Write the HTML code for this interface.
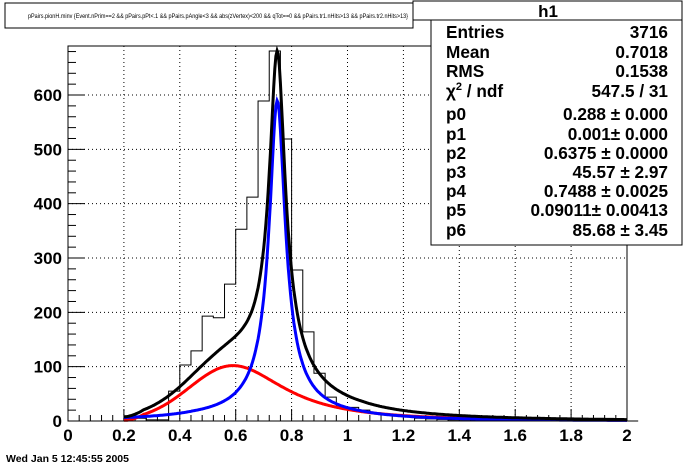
<!DOCTYPE html>
<html><head><meta charset="utf-8"><style>
body{margin:0;background:#fff}
svg{display:block;font-family:"Liberation Sans",Arial,sans-serif}
</style></head><body>
<svg id="s" width="696" height="468" viewBox="0 0 696 468" xmlns="http://www.w3.org/2000/svg">
<rect width="696" height="468" fill="#fff"/>
<g id="grid" stroke="#000" stroke-width="1" stroke-dasharray="1,3"></g>
<g id="ticks" stroke="#000" stroke-width="1"></g>
<path id="hist" fill="none" stroke="#000" stroke-width="1"/>
<path id="red" fill="none" stroke="#f00" stroke-width="3"/>
<path id="blue" fill="none" stroke="#00f" stroke-width="3"/>
<path id="black" fill="none" stroke="#000" stroke-width="3"/>
<rect x="68" y="46" width="559" height="375" fill="none" stroke="#000" stroke-width="1"/>
<g id="labels" font-weight="bold" font-size="17" fill="#000"></g>
<rect x="5" y="3" width="408" height="25" fill="#fff" stroke="#000"/>
<text x="28" y="18" font-size="6" textLength="380" lengthAdjust="spacingAndGlyphs">pPairs.pionH.minv {Event.nPrim==2 &amp;&amp; pPairs.pPt&lt;.1 &amp;&amp; pPairs.pAngle&lt;3 &amp;&amp; abs(zVertex)&lt;200 &amp;&amp; qTot==0 &amp;&amp; pPairs.tr1.nHits&gt;13 &amp;&amp; pPairs.tr2.nHits&gt;13}</text>
<rect x="431" y="20" width="251" height="225" fill="#fff" stroke="#000"/>
<g font-weight="bold" font-size="17.2" fill="#000">
<text x="446" y="38">Entries</text><text x="668" y="38" text-anchor="end">3716</text>
<text x="446" y="58">Mean</text><text x="668" y="58" text-anchor="end">0.7018</text>
<text x="446" y="77">RMS</text><text x="668" y="77" text-anchor="end">0.1538</text>
<text x="446" y="97">χ<tspan font-size="11" dy="-7">2</tspan><tspan dy="7"> / ndf</tspan></text><text x="668" y="97" text-anchor="end">547.5 / 31</text>
<text x="446" y="120">p0</text><text x="668" y="120" text-anchor="end">0.288 ± 0.000</text>
<text x="446" y="140">p1</text><text x="668" y="140" text-anchor="end">0.001± 0.000</text>
<text x="446" y="159">p2</text><text x="668" y="159" text-anchor="end">0.6375 ± 0.0000</text>
<text x="446" y="178">p3</text><text x="668" y="178" text-anchor="end">45.57 ± 2.97</text>
<text x="446" y="197">p4</text><text x="668" y="197" text-anchor="end">0.7488 ± 0.0025</text>
<text x="446" y="216">p5</text><text x="668" y="216" text-anchor="end">0.09011± 0.00413</text>
<text x="446" y="236">p6</text><text x="668" y="236" text-anchor="end">85.68 ± 3.45</text>
</g>
<rect x="413" y="1" width="269" height="19" fill="#fff" stroke="#000"/>
<text x="548" y="17" font-weight="bold" font-size="17" text-anchor="middle">h1</text>
<text x="6" y="462" font-weight="bold" font-size="10.5">Wed Jan  5 12:45:55 2005</text>
</svg>
<script>
var X=function(v){return 68+v*279.5},Y=function(v){return 421-v*0.5433};
var ns="http://www.w3.org/2000/svg";
function el(p,t,a,txt){var e=document.createElementNS(ns,t);for(var k in a)e.setAttribute(k,a[k]);if(txt!=null)e.textContent=txt;document.getElementById(p).appendChild(e);}
for(var i=1;i<=9;i++){var x=X(i*0.2);el("grid","line",{x1:x,y1:46,x2:x,y2:421});}
for(var j=1;j<=6;j++){var y=Y(j*100);el("grid","line",{x1:68,y1:y,x2:627,y2:y});}
for(var i=0;i<=50;i++){var x=X(i*0.04),L=(i%5==0)?12:6;el("ticks","line",{x1:x,y1:421,x2:x,y2:421-L});}
for(var j=0;j<=34;j++){var y=Y(j*20),L=(j%5==0)?17:8;el("ticks","line",{x1:68,y1:y,x2:68+L,y2:y});}
var xl=["0","0.2","0.4","0.6","0.8","1","1.2","1.4","1.6","1.8","2"];
for(var i=0;i<=10;i++)el("labels","text",{x:X(i*0.2),y:441,"text-anchor":"middle"},xl[i]);
for(var j=0;j<=6;j++)el("labels","text",{x:62,y:Y(j*100)+6,"text-anchor":"end"},String(j*100));
var h=[3,5,2,2,55,103,129,193,190,252,353,412,589,681,519,278,164,88,44,25,25,20,15,12,10,8,5,4,3,2,2,1,1,0,1,1,2,1,1,0,1,0,0,0,0,0];
var d="M"+X(0.2)+","+Y(0);
for(var k=0;k<h.length;k++){var a=0.2+k*0.04;d+=" L"+X(a)+","+Y(h[k])+" L"+X(a+0.04)+","+Y(h[k]);}
d+=" L"+X(2)+","+Y(0);
document.getElementById("hist").setAttribute("d",d);
function red(x){var dd=x-0.59;var v=dd<0?102*Math.exp(-dd*dd/(2*0.155*0.155)):102/Math.pow(1+dd*dd/0.0625,1.2);return v*Math.min(1,Math.max(0.3,(x-0.19)/0.08));}
function blue(x){var dd=x-0.7488,ad=Math.abs(dd);return 590/Math.pow(1+dd*dd/0.00092,0.75)*Math.exp(-Math.max(0,ad-0.3)*0.8);}
var pr="",pb="",pk="";
for(var x=0.2;x<=2.0001;x+=0.004){var r=red(x),b=blue(x);
pr+=(pr?" L":"M")+X(x).toFixed(1)+","+Y(r).toFixed(1);
pb+=(pb?" L":"M")+X(x).toFixed(1)+","+Y(b).toFixed(1);
pk+=(pk?" L":"M")+X(x).toFixed(1)+","+Y(r+b*1.04).toFixed(1);}
document.getElementById("red").setAttribute("d",pr);
document.getElementById("blue").setAttribute("d",pb);
document.getElementById("black").setAttribute("d",pk);
</script>
</body></html>
